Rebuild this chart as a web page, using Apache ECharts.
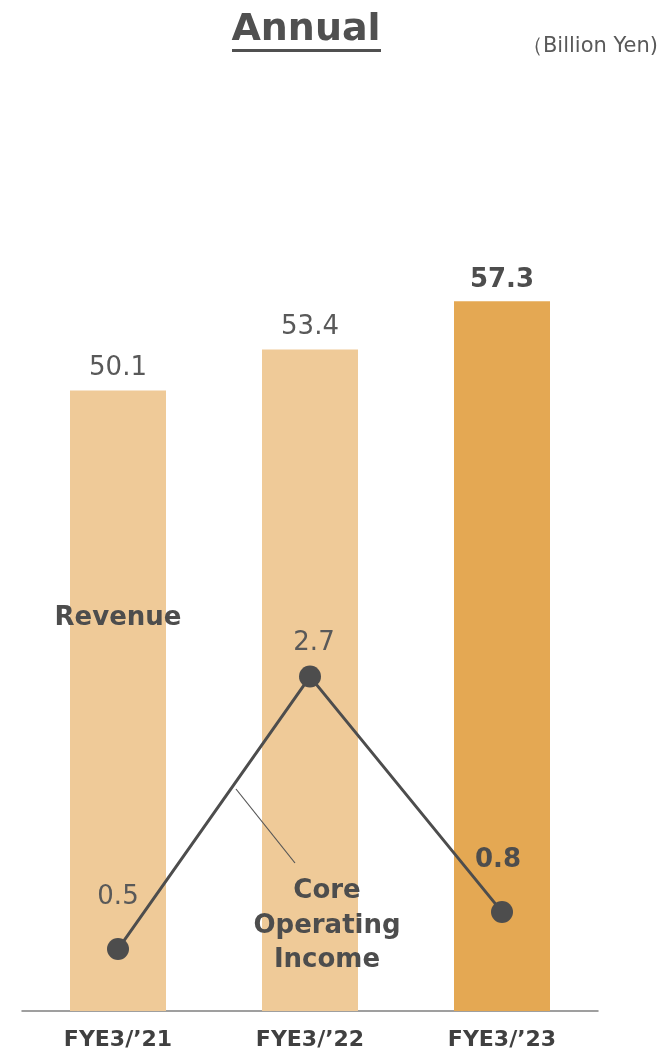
<!DOCTYPE html>
<html>
<head>
<meta charset="utf-8">
<script src="https://cdn.jsdelivr.net/npm/echarts@6/dist/echarts.min.js"></script>
<style>
html,body{margin:0;padding:0;background:#fff;}
#chart{width:661px;height:1051px;}
</style>
</head>
<body>
<div id="chart"></div>
<script>
const categories = ["FYE3/’21", "FYE3/’22", "FYE3/’23"];
const revenue = [50.1, 53.4, 57.3];
const coreOperatingIncome = [0.5, 2.7, 0.8];
const titleText = "Annual";
const unitText = "（Billion Yen)";
const revenueName = "Revenue";
const incomeName = "Core\nOperating\nIncome";

const FONT = "DejaVu Sans, Verdana, sans-serif";
const LIGHT = "#EFCA98";
const DARK = "#E4A853";
const LINE = "#4D4D4D";
const TXT = "#595959";

const last = revenue.length - 1;
const barData = revenue.map((v, i) => ({
  value: v,
  itemStyle: { color: i === last ? DARK : LIGHT },
  label: i === last ? { fontWeight: "bold", color: "#4D4D4D", distance: 8 } : {}
}));
const lineLabelDist = [28, 9, 28];
const lineData = coreOperatingIncome.map((v, i) => ({
  value: v,
  label: i === last
    ? { fontWeight: "bold", color: "#4D4D4D", distance: lineLabelDist[i], offset: [-4, 0] }
    : { distance: lineLabelDist[i], offset: i === 1 ? [4, 0] : [0, 0] }
}));

const chart = echarts.init(document.getElementById("chart"));
chart.setOption({
  animation: false,
  backgroundColor: "#fff",
  grid: { left: 22, right: 63, top: 144, bottom: 39 },
  xAxis: {
    type: "category",
    data: categories,
    axisLine: { lineStyle: { color: "#808080", width: 1.5 } },
    axisTick: { show: false },
    axisLabel: { color: "#404040", fontFamily: FONT, fontWeight: "bold", fontSize: 22, margin: 18 }
  },
  yAxis: [
    { type: "value", min: 0, max: 70, show: false, splitLine: { show: false } },
    { type: "value", min: 0, max: 7, show: false, splitLine: { show: false } }
  ],
  series: [
    {
      type: "bar",
      data: barData,
      barWidth: "50%",
      yAxisIndex: 0,
      label: { show: true, position: "top", distance: 9, color: TXT, fontFamily: FONT, fontSize: 26 }
    },
    {
      type: "line",
      data: lineData,
      yAxisIndex: 1,
      symbol: "circle",
      symbolSize: 22,
      lineStyle: { color: LINE, width: 3 },
      itemStyle: { color: LINE },
      label: { show: true, position: "top", color: TXT, fontFamily: FONT, fontSize: 26 },
      z: 5
    }
  ],
  graphic: [
    {
      type: "text", x: 306, y: 30, z: 100,
      style: { text: titleText, fill: "#505050", font: "bold 38px " + FONT, textAlign: "center", textVerticalAlign: "middle" }
    },
    {
      type: "rect", shape: { x: 232, y: 49, width: 149, height: 3 }, z: 100,
      style: { fill: "#505050" }
    },
    {
      type: "text", x: 658, y: 47, z: 100,
      style: { text: unitText, fill: TXT, font: "21px " + FONT, textAlign: "right", textVerticalAlign: "middle" }
    },
    {
      type: "text", x: 118, y: 618, z: 100,
      style: { text: revenueName, fill: "#4D4D4D", font: "bold 26px " + FONT, textAlign: "center", textVerticalAlign: "middle" }
    },
    {
      type: "text", x: 327, y: 926, z: 100,
      style: { text: incomeName, fill: "#4D4D4D", font: "bold 26px " + FONT, textAlign: "center", textVerticalAlign: "middle", lineHeight: 34.5 }
    },
    {
      type: "line", shape: { x1: 236, y1: 789, x2: 295, y2: 863 }, z: 100,
      style: { stroke: "#555", lineWidth: 1.2 }
    }
  ]
});
</script>
</body>
</html>
